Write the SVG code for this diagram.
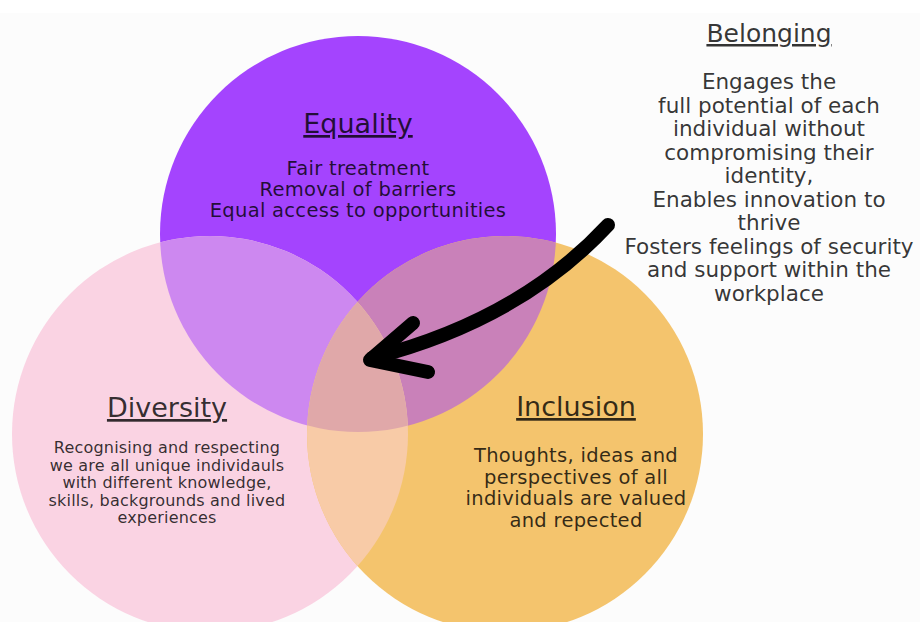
<svg xmlns="http://www.w3.org/2000/svg" width="920" height="622" viewBox="0 0 920 622">
<style>
.t{font-family:"DejaVu Sans","Liberation Sans",sans-serif;fill:#000;fill-opacity:0.8;text-anchor:middle}
.h{font-size:27px;text-decoration:underline}
.b{font-size:19.5px;letter-spacing:0.3px}
</style>
<defs>
<clipPath id="cE"><circle cx="358" cy="234" r="198"/></clipPath>
<clipPath id="cD"><circle cx="210" cy="434" r="198"/></clipPath>
<clipPath id="cI"><circle cx="505" cy="434" r="198"/></clipPath>
</defs>
<rect width="920" height="622" fill="#fcfcfc"/>
<rect width="920" height="13" fill="#ffffff"/>
<g id="circles">
<circle cx="358" cy="234" r="198" fill="#a444fe"/>
<circle cx="210" cy="434" r="198" fill="#fad3e3"/>
<circle cx="505" cy="434" r="198" fill="#f4c46d"/>
<g clip-path="url(#cE)"><circle cx="210" cy="434" r="198" fill="#cd88f0"/><circle cx="505" cy="434" r="198" fill="#c981b9"/></g>
<g clip-path="url(#cD)"><circle cx="505" cy="434" r="198" fill="#f8cba7"/></g>
<g clip-path="url(#cD)"><g clip-path="url(#cI)"><circle cx="358" cy="234" r="198" fill="#e0a8a9"/></g></g>
</g>
<g id="equality">
<text class="t h" x="358" y="133">Equality</text>
<text class="t b" x="358" y="175">Fair treatment</text>
<text class="t b" x="358" y="196">Removal of barriers</text>
<text class="t b" x="358" y="217">Equal access to opportunities</text>
</g>
<g id="diversity">
<text class="t h" x="167" y="417">Diversity</text>
<g style="font-size:16px;letter-spacing:0.2px">
<text class="t" x="167" y="453">Recognising and respecting</text>
<text class="t" x="167" y="470.5">we are all unique individauls</text>
<text class="t" x="167" y="488">with different knowledge,</text>
<text class="t" x="167" y="505.5">skills, backgrounds and lived</text>
<text class="t" x="167" y="523">experiences</text>
</g>
</g>
<g id="inclusion">
<text class="t h" x="576" y="416">Inclusion</text>
<g style="letter-spacing:0.1px">
<text class="t b" x="576" y="462">Thoughts, ideas and</text>
<text class="t b" x="576" y="483.5">perspectives of all</text>
<text class="t b" x="576" y="505">individuals are valued</text>
<text class="t b" x="576" y="527">and repected</text>
</g>
</g>
<g id="belonging">
<text class="t" x="769" y="42" style="font-size:25px;text-decoration:underline">Belonging</text>
<g style="font-size:21.5px">
<text class="t" x="769" y="89">Engages the</text>
<text class="t" x="769" y="112.5">full potential of each</text>
<text class="t" x="769" y="136">individual without</text>
<text class="t" x="769" y="159.5">compromising their</text>
<text class="t" x="769" y="183">identity,</text>
<text class="t" x="769" y="206.5">Enables innovation to</text>
<text class="t" x="769" y="230">thrive</text>
<text class="t" x="769" y="253.5">Fosters feelings of security</text>
<text class="t" x="769" y="277">and support  within the</text>
<text class="t" x="769" y="300.5">workplace</text>
</g>
</g>
<g id="connectors" fill="none" stroke="#000" stroke-width="14" stroke-linecap="round" stroke-linejoin="round">
<path d="M608 225 Q520 320 372 358"/>
<polyline points="413,323 370,360 428,372"/>
</g>
</svg>
